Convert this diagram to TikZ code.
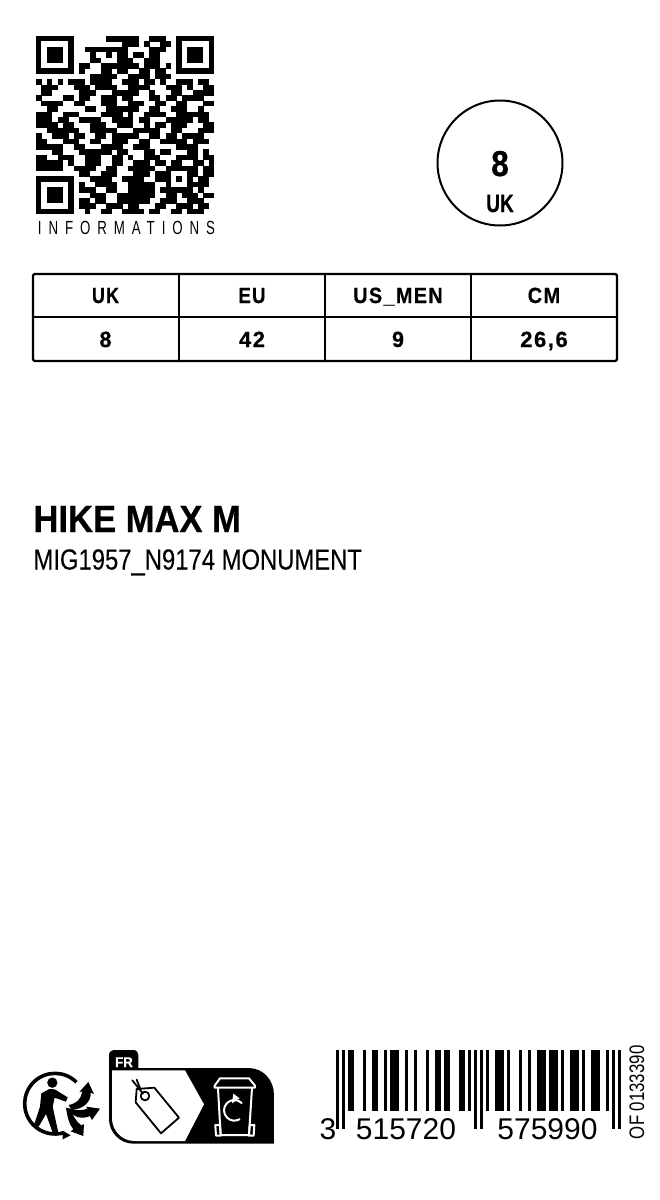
\documentclass[tikz,border=0pt]{standalone}
\usepackage{fontspec}
\setmainfont{Liberation Sans}
\newfontfamily\lsp[LetterSpace=7,FakeBold=0.6]{Liberation Sans Bold}
\newfontfamily\heavy[FakeBold=0.6]{Liberation Sans Bold}
\newfontfamily\lspw[LetterSpace=52]{Liberation Sans}
\newfontfamily\med[FakeBold=0.2]{Liberation Sans}
\newcount\qrx
\def\qrscan#1{\ifx#1;\let\qrnext\relax\else\ifx#11\fill (36+\the\qrx*5.4,36+\qrr*5.4) rectangle +(5.5,5.5);\fi\advance\qrx by 1 \let\qrnext\qrscan\fi\qrnext}
\newcommand{\sx}[2]{\scalebox{#1}[1]{#2}}
\tikzset{
  txt/.style={inner sep=0pt,outer sep=0pt,anchor=base},
  txtl/.style={inner sep=0pt,outer sep=0pt,anchor=base west},
  tabtxt/.style={txt,font=\lsp\fontsize{22}{22}\selectfont},
  rule/.style={line width=2.4pt,line cap=round,line join=round},
  inv/.style={line width=2pt,draw=white,line join=round,line cap=round},
}
\begin{document}
\begin{tikzpicture}[x=1pt,y=-1pt]
\useasboundingbox (0,0) rectangle (660,1200);
\fill[white] (0,0) rectangle (660,1200);
% QR code
\foreach \s [count=\qri from 0] in {
000000000000011111100111000000000,
000000000000000011101001100000000,
000000000111111110000111000000000,
000000000010010110110110000000000,
000000000011000111001110000000000,
000000001100111111101110100000000,
000000001000110110011011000000000,
000000000011111001111011100000000,
101010111011110011101101001110110,
011100011101111001111000111010011,
011000001110001111100100011001111,
100001101100111011000110110111100,
011110011000111001110011001100011,
001100000110011111100110011100100,
111001110000111101001111001111110,
111011001111001111011000111110110,
111101100011100111001011011100011,
001111110011111000111110011000111,
100111011001101111100110110111100,
110001110011001110011001111101110,
111110011000111100111000001111000,
000110001111110110001101100011010,
110011100111001101001110001111011,
111110100111001100111011011001101,
111110011110011001111100110011011,
000000001100111000111011100111011,
000000000011110011110011001000110,
000000001001111001111100111001110,
000000001110011001111101111110100,
000000000011100111111100110111011,
000000001101100111111001110011100,
000000001110011101100011001110110,
000000000100110011110110011011100}{
  \pgfmathtruncatemacro\qrr{\qri}
  \global\qrx=0
  \expandafter\qrscan\s;
}
\foreach \fx/\fy in {0/0,26/0,0/26}{
  \fill[white] (36+\fx*5.4-0.1,36+\fy*5.4-0.1) rectangle +(37.8,37.8);
  \fill (36+\fx*5.4,36+\fy*5.4) rectangle +(37.8,37.8);
  \fill[white] (36+\fx*5.4+5.4,36+\fy*5.4+5.4) rectangle +(27,27);
  \fill (36+\fx*5.4+10.8,36+\fy*5.4+10.8) rectangle +(16.2,16.2);
}
\fill (36+24*5.4,36+24*5.4) rectangle +(27,27);
\fill[white] (36+25*5.4,36+25*5.4) rectangle +(16.2,16.2);
\fill (36+26*5.4,36+26*5.4) rectangle +(5.4,5.4);
\node[txt,font=\lspw\fontsize{19}{19}\selectfont] (info) at (126.5,234) {\sx{.7}{INFORMATIONS}};
% size badge
\node[circle,draw,line width=2pt,minimum size=125pt,inner sep=0pt] (badge) at (500,163) {};
\node[txt,font=\heavy\fontsize{36}{36}\selectfont] (bigsize) at (500,176) {\sx{.88}{8}};
\node[txt,font=\heavy\fontsize{25}{25}\selectfont] (bigunit) at (500,212) {\sx{.76}{UK}};
% table
\draw[rule,rounded corners=1.5pt] (33,274) rectangle (617,361);
\draw[rule] (33,317) -- (617,317);
\draw[rule] (179,274) -- (179,361);
\draw[rule] (325,274) -- (325,361);
\draw[rule] (471,274) -- (471,361);
\node[tabtxt] (h1) at (105.5,303) {\sx{.81}{UK}};
\node[tabtxt] (h2) at (252,303) {\sx{.84}{EU}};
\node[tabtxt] (h3) at (398,303) {\sx{.9}{US\_MEN}};
\node[tabtxt] (h4) at (544,303) {\sx{.91}{CM}};
\node[tabtxt] (v1) at (105.5,347) {\sx{.98}{8}};
\node[tabtxt] (v2) at (252,347) {\sx{1}{42}};
\node[tabtxt] (v3) at (398,347) {\sx{.98}{9}};
\node[tabtxt] (v4) at (544,347) {\sx{1}{26,6}};
% titles
\node[txtl,font=\heavy\fontsize{38}{38}\selectfont] (title) at (33.5,532) {\sx{.91}{HIKE MAX M}};
\node[txtl,font=\med\fontsize{29}{29}\selectfont] (ref) at (33.5,569.5) {\sx{.822}{MIG1957\_N9174 MONUMENT}};
% Triman logo
\begin{scope}[shift={(20,1060)},x=.3333pt,y=-.3333pt]
  \draw[line width=3.6pt] (105,131) ++(-45:91) arc[start angle=-45,end angle=-288,radius=91];
  \fill (128,212) -- (152,226) -- (128,238) -- cycle;
  \fill (97,68) circle[radius=15.5];
  \fill (64,100) -- (88,87) -- (104,88) -- (143,112) -- (138,125) -- (104,113) -- (98,140) -- (116,222) -- (101,226) -- (78,162) -- (56,200) -- (43,192) -- (60,140) -- cycle;
  \fill (146,135) .. controls (170,130) and (184,118) .. (186,94) -- (178,96) -- (205,66) -- (222,102) -- (212,98) .. controls (214,125) and (190,148) .. (154,150) -- cycle;
  \fill (148,146) .. controls (165,152) and (185,152) .. (203,146) -- (198,140) -- (240,146) -- (216,180) -- (210,168) .. controls (185,180) and (160,170) .. (146,152) -- cycle;
  \fill (138,143) .. controls (142,170) and (148,195) .. (160,208) -- (152,214) -- (190,228) -- (192,192) -- (184,196) .. controls (168,185) and (158,165) .. (150,146) -- cycle;
\end{scope}
% sorting pictogram
\begin{scope}[shift={(105,1045)},x=.3333pt,y=-.3333pt]
  \fill (12,30) .. controls (12,20) and (20,15) .. (30,15) -- (85,15) .. controls (95,15) and (100,22) .. (100,30) -- (100,69) -- (430,69) .. controls (475,69) and (507,105) .. (507,150) -- (507,296) -- (85,296) .. controls (45,296) and (12,262) .. (12,222) -- cycle;
  \fill[white] (21,76) -- (240,76) -- (297,178) -- (240,288) -- (88,288) .. controls (50,288) and (21,255) .. (21,220) -- cycle;
  \begin{scope}[line width=1.8pt,line join=round,line cap=round]
    \draw (95,132) -- (148,128) -- (222,218) -- (168,265) -- (92,172) -- cycle;
    \draw (120,153) circle[radius=13];
    \draw (114,146) -- (82,106);
    \draw (106,132) -- (95,104);
  \end{scope}
  \begin{scope}[inv]
    \draw[inv] (345,100) -- (432,100) -- (450,122) -- (450,128) -- (329,128) -- (329,122) -- cycle;
    \draw[inv] (339,130) -- (347,270) -- (432,270) -- (441,130);
    \draw[inv] (331,240) -- (345,240) -- (347,272) -- (333,272) -- cycle;
    \draw[inv] (434,240) -- (448,240) -- (446,272) -- (432,272) -- cycle;
    \draw[inv] (410,174) arc[start angle=-45,end angle=-300,radius=31];
    \fill[white] (385,146) -- (404,160) -- (381,175) -- cycle;
  \end{scope}
\end{scope}
\node[txt,text=white,font=\heavy\fontsize{14}{14}\selectfont] (fr) at (124,1067) {\sx{.95}{FR}};
% barcode
\foreach \b in {4,5,9,12,13,16,18,19,20,23,26,30,33,34,36,37,41,42,44,50,53,54,55,57,61,64,67,68,69,71,72,73,75,78,79,80,82,85,86,87,90}{
  \fill (336+3*\b,1050) rectangle +(3,61);
}
\foreach \b in {0,2,46,48,92,94}{
  \fill (336+3*\b,1050) rectangle +(3,79);
}
\node[txt,font=\fontsize{30}{30}\selectfont] (d1) at (328,1139) {3};
\node[txt,font=\fontsize{30}{30}\selectfont] (d2) at (406,1139) {515720};
\node[txt,font=\fontsize{30}{30}\selectfont] (d3) at (547.5,1139) {575990};
\node[txtl,font=\fontsize{21}{21}\selectfont,rotate=90] (of) at (644,1139) {\sx{.8}{OF 0133390}};
\end{tikzpicture}
\end{document}
